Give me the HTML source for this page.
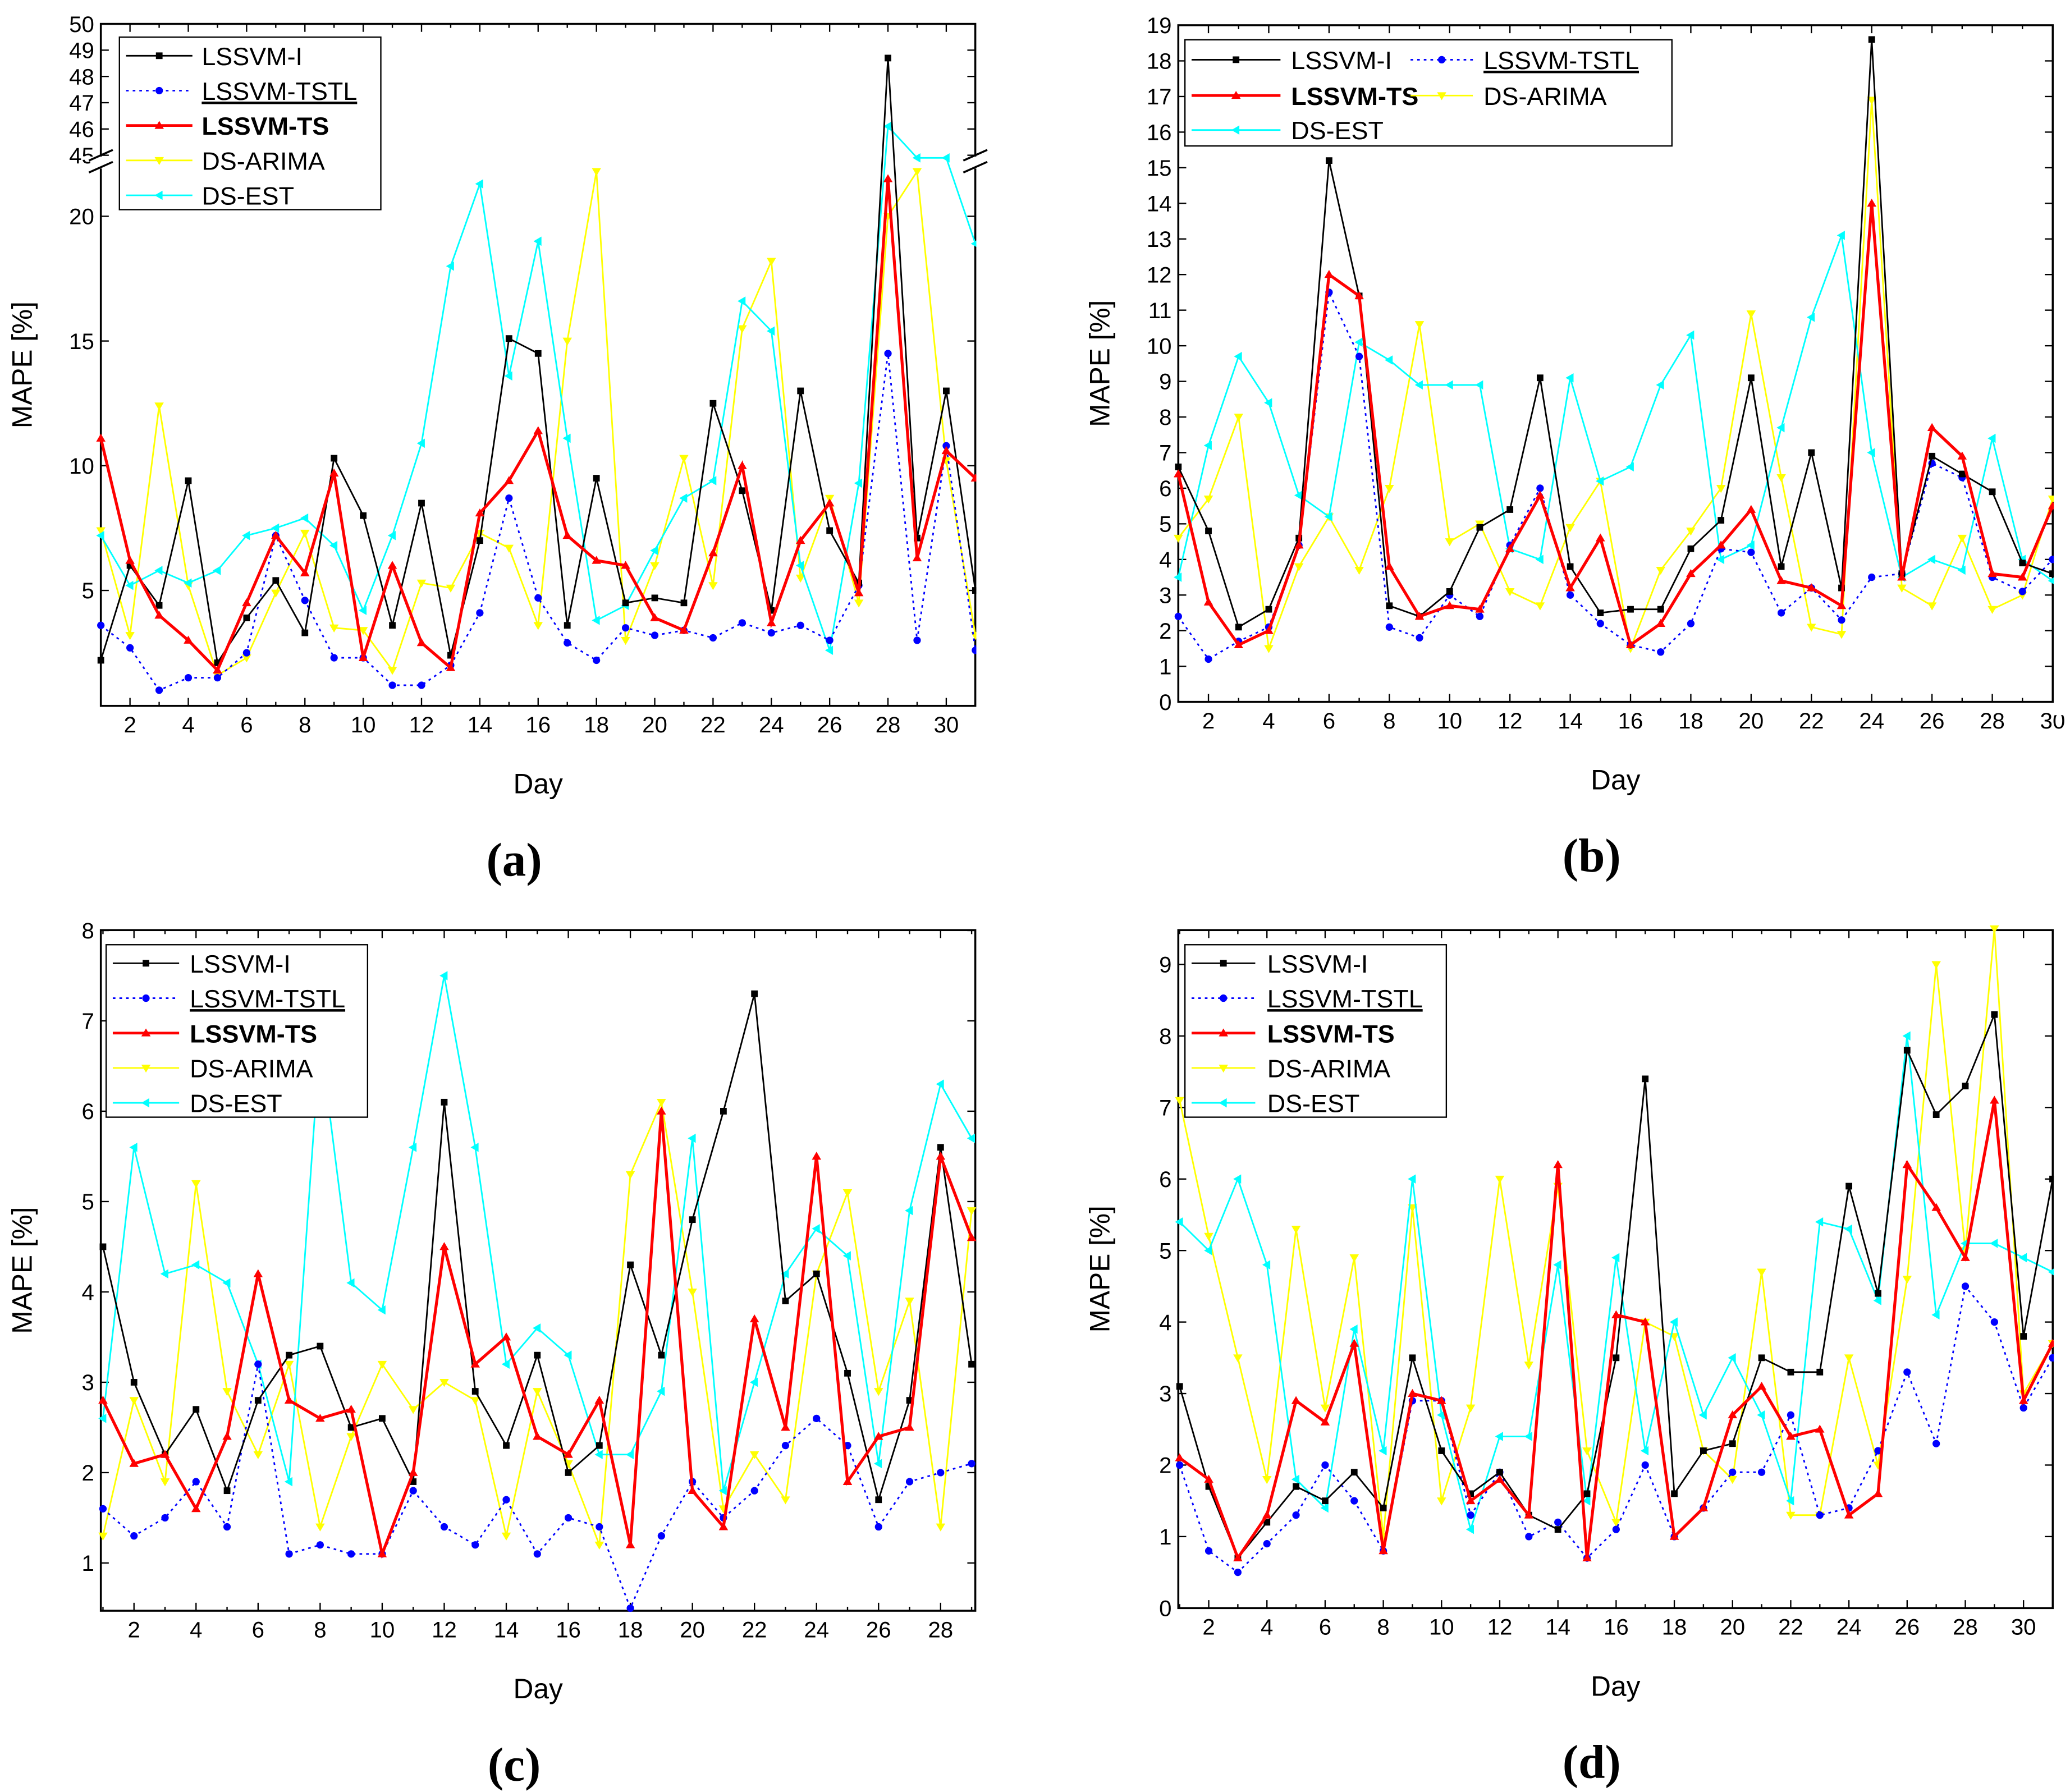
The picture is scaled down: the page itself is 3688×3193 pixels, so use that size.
<!DOCTYPE html>
<html><head><meta charset="utf-8"><style>
html,body{margin:0;padding:0;background:#fff}
svg{display:block}
text{font-family:"Liberation Sans",sans-serif}
text.serif{font-family:"Liberation Serif",serif}
</style></head><body>
<svg id="fig" width="3688" height="3193" viewBox="0 0 1560 1350.6" xmlns="http://www.w3.org/2000/svg"></svg>
<script>
const NS="http://www.w3.org/2000/svg";
const svg=document.getElementById('fig');
const seriesNames=["LSSVM-I","LSSVM-TSTL","LSSVM-TS","DS-ARIMA","DS-EST"];
const seriesColors=["#000","#0000ff","#ff0000","#ffff00","#00ffff"];
// panel (a)
const aI=[2.2,6.0,4.4,9.4,2.1,3.9,5.4,3.3,10.3,8.0,3.6,8.5,2.4,7.0,15.1,14.5,3.6,9.5,4.5,4.7,4.5,12.5,9.0,4.2,13.0,7.4,5.3,48.7,7.1,13.0,5.0];
const aTSTL=[3.6,2.7,1.0,1.5,1.5,2.5,7.2,4.6,2.3,2.3,1.2,1.2,2.0,4.1,8.7,4.7,2.9,2.2,3.5,3.2,3.4,3.1,3.7,3.3,3.6,3.0,5.2,14.5,3.0,10.8,2.6];
const aTS=[11.1,6.2,4.0,3.0,1.8,4.5,7.2,5.7,9.7,2.3,6.0,2.9,1.9,8.1,9.4,11.4,7.2,6.2,6.0,3.9,3.4,6.5,10.0,3.7,7.0,8.5,4.9,21.5,6.3,10.6,9.5];
const aARIMA=[7.4,3.2,12.4,5.2,1.6,2.3,4.9,7.3,3.5,3.4,1.8,5.3,5.1,7.3,6.7,3.6,15.0,21.8,3.0,6.0,10.3,5.2,15.5,18.2,5.5,8.7,4.5,20.0,21.8,10.2,3.2];
const aEST=[7.2,5.2,5.8,5.3,5.8,7.2,7.5,7.9,6.8,4.2,7.2,10.9,18.0,21.3,13.6,19.0,11.1,3.8,4.4,6.6,8.7,9.4,16.6,15.4,6.0,2.6,9.3,46.1,44.9,44.9,18.9];
// panel (b)
const bI=[6.6,4.8,2.1,2.6,4.6,15.2,11.4,2.7,2.4,3.1,4.9,5.4,9.1,3.8,2.5,2.6,2.6,4.3,5.1,9.1,3.8,7.0,3.2,18.6,3.6,6.9,6.4,5.9,3.9,3.6];
const bTSTL=[2.4,1.2,1.7,2.1,4.4,11.5,9.7,2.1,1.8,3.0,2.4,4.4,6.0,3.0,2.2,1.6,1.4,2.2,4.3,4.2,2.5,3.2,2.3,3.5,3.6,6.7,6.3,3.5,3.1,4.0];
const bTS=[6.4,2.8,1.6,2.0,4.4,12.0,11.4,3.8,2.4,2.7,2.6,4.3,5.8,3.2,4.6,1.6,2.2,3.6,4.4,5.4,3.4,3.2,2.7,14.0,3.5,7.7,6.9,3.6,3.5,5.5];
const bARIMA=[4.6,5.7,8.0,1.5,3.8,5.2,3.7,6.0,10.6,4.5,5.0,3.1,2.7,4.9,6.2,1.5,3.7,4.8,6.0,10.9,6.3,2.1,1.9,16.9,3.2,2.7,4.6,2.6,3.0,5.7];
const bEST=[3.5,7.2,9.7,8.4,5.8,5.2,10.1,9.6,8.9,8.9,8.9,4.3,4.0,9.1,6.2,6.6,8.9,10.3,4.0,4.4,7.7,10.8,13.1,7.0,3.5,4.0,3.7,7.4,4.0,3.4];
// panel (c)
const cI=[4.5,3.0,2.2,2.7,1.8,2.8,3.3,3.4,2.5,2.6,1.9,6.1,2.9,2.3,3.3,2.0,2.3,4.3,3.3,4.8,6.0,7.3,3.9,4.2,3.1,1.7,2.8,5.6,3.2];
const cTSTL=[1.6,1.3,1.5,1.9,1.4,3.2,1.1,1.2,1.1,1.1,1.8,1.4,1.2,1.7,1.1,1.5,1.4,0.5,1.3,1.9,1.5,1.8,2.3,2.6,2.3,1.4,1.9,2.0,2.1];
const cTS=[2.8,2.1,2.2,1.6,2.4,4.2,2.8,2.6,2.7,1.1,2.0,4.5,3.2,3.5,2.4,2.2,2.8,1.2,6.0,1.8,1.4,3.7,2.5,5.5,1.9,2.4,2.5,5.5,4.6];
const cARIMA=[1.3,2.8,1.9,5.2,2.9,2.2,3.2,1.4,2.4,3.2,2.7,3.0,2.8,1.3,2.9,2.1,1.2,5.3,6.1,4.0,1.6,2.2,1.7,4.2,5.1,2.9,3.9,1.4,4.9];
const cEST=[2.6,5.6,4.2,4.3,4.1,3.2,1.9,6.8,4.1,3.8,5.6,7.5,5.6,3.2,3.6,3.3,2.2,2.2,2.9,5.7,1.8,3.0,4.2,4.7,4.4,2.1,4.9,6.3,5.7];
// panel (d)
const dI=[3.1,1.7,0.7,1.2,1.7,1.5,1.9,1.4,3.5,2.2,1.6,1.9,1.3,1.1,1.6,3.5,7.4,1.6,2.2,2.3,3.5,3.3,3.3,5.9,4.4,7.8,6.9,7.3,8.3,3.8,6.0];
const dTSTL=[2.0,0.8,0.5,0.9,1.3,2.0,1.5,0.8,2.9,2.9,1.3,1.9,1.0,1.2,0.7,1.1,2.0,1.0,1.4,1.9,1.9,2.7,1.3,1.4,2.2,3.3,2.3,4.5,4.0,2.8,3.5];
const dTS=[2.1,1.8,0.7,1.3,2.9,2.6,3.7,0.8,3.0,2.9,1.5,1.8,1.3,6.2,0.7,4.1,4.0,1.0,1.4,2.7,3.1,2.4,2.5,1.3,1.6,6.2,5.6,4.9,7.1,2.9,3.7];
const dARIMA=[7.1,5.2,3.5,1.8,5.3,2.8,4.9,1.0,5.6,1.5,2.8,6.0,3.4,5.9,2.2,1.2,4.0,3.8,2.2,1.8,4.7,1.3,1.3,3.5,2.0,4.6,9.0,5.0,9.5,3.0,3.7];
const dEST=[5.4,5.0,6.0,4.8,1.8,1.4,3.9,2.2,6.0,2.7,1.1,2.4,2.4,4.8,1.5,4.9,2.2,4.0,2.7,3.5,2.7,1.5,5.4,5.3,4.3,8.0,4.1,5.1,5.1,4.9,4.7];
const aYTicks=[5,10,15,20,45,46,47,48,49,50];
const bYTicks=[0,1,2,3,4,5,6,7,8,9,10,11,12,13,14,15,16,17,18,19];
const cYTicks=[1,2,3,4,5,6,7,8];
const dYTicks=[0,1,2,3,4,5,6,7,8,9];

function el(tag,attrs,parent){const e=document.createElementNS(NS,tag);for(const k in attrs)e.setAttribute(k,attrs[k]);(parent||svg).appendChild(e);return e;}
function txt(s,attrs,parent){const t=el('text',attrs,parent);t.textContent=s;return t;}

function marker(g,k,x,y,c){
  let m;
  if(k===0)m=el('rect',{x:x-2.5,y:y-2.5,width:5,height:5,fill:c},g);
  else if(k===1)m=el('circle',{cx:x,cy:y,r:2.8,fill:c},g);
  else if(k===2)m=el('polygon',{points:`${x},${y-3.5} ${x-3.5},${y+2.5} ${x+3.5},${y+2.5}`,fill:c},g);
  else if(k===3)m=el('polygon',{points:`${x},${y+3.5} ${x-3.5},${y-2.5} ${x+3.5},${y-2.5}`,fill:c},g);
  else m=el('polygon',{points:`${x-3.5},${y} ${x+2.5},${y-3.5} ${x+2.5},${y+3.5}`,fill:c},g);
  
  
}

function panel(o){
  const g=el('g',{});
  
  
  const X=d=>o.x1+(d-o.d1)*o.dx;
  el('rect',{x:o.L,y:o.T,width:o.R-o.L,height:o.B-o.T,fill:'none',stroke:'#000','stroke-width':1.5},g);
  for(let d=1;d<=o.dmax;d++){
    const x=X(d);if(x<o.L-0.5||x>o.R+0.5)continue;
    const major=d%2===0;
    el('line',{x1:x,y1:o.B,x2:x,y2:o.B-(major?6:3),stroke:'#000','stroke-width':1},g);
    el('line',{x1:x,y1:o.T,x2:x,y2:o.T+(major?6:3),stroke:'#000','stroke-width':1},g);
    if(major){const t=txt(String(d),{x:x,y:o.B+20,'font-size':17,'text-anchor':'middle'},g);
      }
  }
  for(const v of o.yticks){
    const y=o.Y(v);
    el('line',{x1:o.L,y1:y,x2:o.L+6,y2:y,stroke:'#000'},g);
    el('line',{x1:o.R,y1:y,x2:o.R-6,y2:y,stroke:'#000'},g);
    const t=txt(String(v),{x:o.L-5,y:y+6,'font-size':17,'text-anchor':'end'},g);
    
  }
  const order=[3,4,1,0,2];
  for(const k of order){
    const data=o.series[k];
    const sg=el('g',{},g);
    
    
    const pts=data.map((v,i)=>[X(i+1),o.Y(v)]);
    const pl=el('polyline',{points:pts.map(p=>p.join(',')).join(' '),fill:'none',stroke:seriesColors[k],'stroke-width':k===2?2.2:1.2,'stroke-dasharray':k===1?'2,3':'none'},sg);
    
    
    pts.forEach(p=>{if(p[0]<=o.R+0.5)marker(sg,k,p[0],p[1],seriesColors[k]);});
  }
  el('rect',{x:o.R+0.8,y:o.T-10,width:80,height:o.B-o.T+20,fill:'#fff'},g);
  if(o.brk){
    el('rect',{x:o.L-8,y:118,width:16,height:9,fill:'#fff'},g);
    el('rect',{x:o.R-8,y:118,width:16,height:9,fill:'#fff'},g);
    for(const xx of [o.L,o.R]){
      el('line',{x1:xx-9,y1:121,x2:xx+9,y2:113,stroke:'#000','stroke-width':1.5},g);
      el('line',{x1:xx-9,y1:130,x2:xx+9,y2:122,stroke:'#000','stroke-width':1.5},g);
    }
  }
  const lg=el('g',{},g);
  
  
  el('rect',{x:o.lg.x,y:o.lg.y,width:o.lg.w,height:o.lg.h,fill:'#fff',stroke:'#000','stroke-width':1},lg);
  o.lg.items.forEach((it,i)=>{
    const k=i;const [lx1,lx2,tx,ty]=it;
    const eg=el('g',{},lg);
    
    
    el('line',{x1:lx1,y1:ty,x2:lx2,y2:ty,stroke:seriesColors[k],'stroke-width':k===2?2:1.2,'stroke-dasharray':k===1?'2,3':'none'},eg);
    marker(eg,k,(lx1+lx2)/2,ty,seriesColors[k]);
    txt(seriesNames[k],{x:tx,y:ty+7,'font-size':19,'font-weight':k===2?'bold':'normal','text-decoration':k===1?'underline':'none'},eg);
  });
  const yt=txt('MAPE [%]',{x:0,y:0,'font-size':21,'text-anchor':'middle',transform:`translate(${o.L-52},${(o.T+o.B)/2}) rotate(-90)`},g);
  
  const xt=txt('Day',{x:(o.L+o.R)/2,y:o.B+66,'font-size':21,'text-anchor':'middle'},g);
  
  const pl=txt('('+o.id+')',{x:(o.L+o.R)/2-18,y:o.B+128,'font-size':36,'font-weight':'bold','class':'serif','text-anchor':'middle'},g);
  
}
function legend5(x,y,lx1,lx2,tx){return {x:x,y:y,w:197,h:130,items:[0,1,2,3,4].map(i=>[lx1,lx2,tx,y+14+i*26.3])};}

panel({id:'a',L:76,R:735,T:18,B:532,x1:76,d1:1,dx:21.97,dmax:31,brk:true,
  Y:v=>v>=44.5?117-(v-45)*19.8:539-18.8*v,yticks:aYTicks,
  series:[aI,aTSTL,aTS,aARIMA,aEST],lg:legend5(90,28,95,145,152)});
panel({id:'b',L:888,R:1547,T:19,B:529,x1:888,d1:1,dx:22.72,dmax:30,
  Y:v=>529-26.84*v,yticks:bYTicks,
  series:[bI,bTSTL,bTS,bARIMA,bEST],
  lg:{x:893,y:30,w:367,h:80,items:[[898,965,973,45],[1063,1110,1118,45],[898,965,973,72],[1063,1110,1118,72],[898,965,973,98]]}});
panel({id:'c',L:76,R:735,T:701,B:1214,x1:77.6,d1:1,dx:23.38,dmax:29,
  Y:v=>1178-68.1*(v-1),yticks:cYTicks,
  series:[cI,cTSTL,cTS,cARIMA,cEST],lg:legend5(80,712,85,135,143)});
panel({id:'d',L:888,R:1547,T:701,B:1212,x1:889,d1:1,dx:21.93,dmax:31,
  Y:v=>1212-53.9*v,yticks:dYTicks,
  series:[dI,dTSTL,dTS,dARIMA,dEST],lg:legend5(893,712,898,946,955)});
</script>
</body></html>
